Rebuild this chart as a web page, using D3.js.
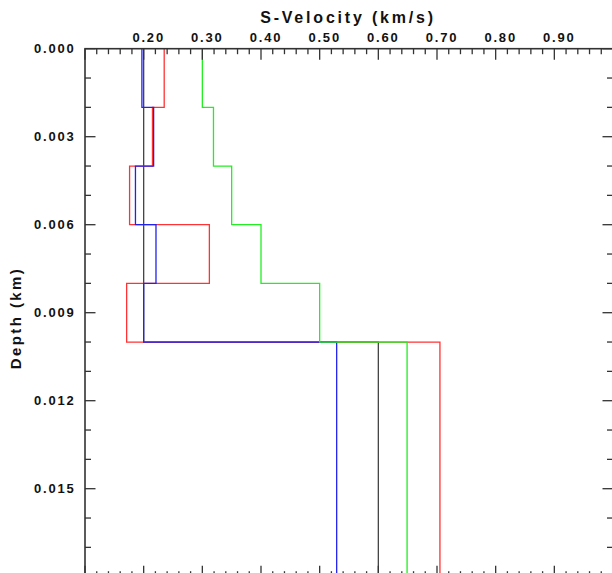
<!DOCTYPE html>
<html>
<head>
<meta charset="utf-8">
<script src="https://cdn.jsdelivr.net/npm/d3@7/dist/d3.min.js"></script>
<style>
  html, body { margin: 0; padding: 0; background: #fff; }
  svg { display: block; }
  .lbl { font-family: "Liberation Sans", Arial, sans-serif; font-weight: bold; fill: #111; }
</style>
</head>
<body>
<svg id="chart" width="612" height="573"></svg>
<script>
// Layer boundaries (km) – each model is piecewise constant, last value is the half-space
const layerTops = [0.000, 0.002, 0.004, 0.006, 0.008, 0.010];
const maxDepth = 0.018;

// S-wave velocity (km/s) of each layer for the four models
const velBlack = [0.200, 0.200, 0.200, 0.200, 0.200, 0.600];
const velRed   = [0.235, 0.215, 0.176, 0.312, 0.171, 0.705];
const velBlue  = [0.197, 0.217, 0.186, 0.221, 0.200, 0.529];
const velGreen = [0.300, 0.319, 0.350, 0.400, 0.500, 0.649];

const seriesNames  = ["black", "red", "blue", "green"];
const seriesColors = ["#444444", "#ff3333", "#2222ee", "#22ee22"];
const seriesVals   = [velBlack, velRed, velBlue, velGreen];

// Axis tick labels
const xTickVals = [0.20, 0.30, 0.40, 0.50, 0.60, 0.70, 0.80, 0.90];
const yTickVals = [0.000, 0.003, 0.006, 0.009, 0.012, 0.015];

const svg = d3.select("#chart");
const plotLeft = 85, plotTop = 48.7, plotSize = 528;

const x = d3.scaleLinear().domain([0.10, 1.00]).range([plotLeft, plotLeft + plotSize]);
const y = d3.scaleLinear().domain([0, maxDepth]).range([plotTop, plotTop + plotSize]);

const axisColor = "#333";

// minor/major ticks helpers
const xMinor = d3.range(0.10, 1.0001, 0.02);
const yMinor = d3.range(0, 0.01801, 0.001);
const isMajorX = v => Math.abs(v * 10 - Math.round(v * 10)) < 1e-6;
const isMajorY = v => Math.abs(v * 1000 / 3 - Math.round(v * 1000 / 3)) < 1e-6;

const g = svg.append("g");

// Velocity profiles drawn as step lines
const line = d3.line().x(d => x(d[0])).y(d => y(d[1]));
seriesVals.forEach((vals, i) => {
  const pts = [];
  vals.forEach((v, k) => {
    const d0 = layerTops[k];
    const d1 = k + 1 < layerTops.length ? layerTops[k + 1] : maxDepth;
    pts.push([v, d0]);
    pts.push([v, d1]);
  });
  g.append("path")
    .attr("class", "profile-" + seriesNames[i])
    .attr("d", line(pts))
    .attr("fill", "none")
    .attr("stroke", seriesColors[i])
    .attr("stroke-width", 1.3);
});

// Frame
g.append("rect")
  .attr("x", plotLeft).attr("y", plotTop)
  .attr("width", plotSize).attr("height", plotSize)
  .attr("fill", "none").attr("stroke", axisColor).attr("stroke-width", 1.6);

// Top axis ticks (pointing inward) and bottom axis ticks
const xt = g.append("g").attr("stroke", axisColor).attr("stroke-width", 1.3);
xMinor.forEach(v => {
  const len = isMajorX(v) ? 11 : 5.5;
  xt.append("line").attr("x1", x(v)).attr("x2", x(v)).attr("y1", plotTop).attr("y2", plotTop + len);
  xt.append("line").attr("x1", x(v)).attr("x2", x(v)).attr("y1", plotTop + plotSize).attr("y2", plotTop + plotSize - len);
});

// Left and right axis ticks
const yt = g.append("g").attr("stroke", axisColor).attr("stroke-width", 1.3);
yMinor.forEach(v => {
  const len = isMajorY(v) ? 10.5 : 6;
  yt.append("line").attr("x1", plotLeft).attr("x2", plotLeft + len).attr("y1", y(v)).attr("y2", y(v));
  yt.append("line").attr("x1", plotLeft + plotSize).attr("x2", plotLeft + plotSize - len).attr("y1", y(v)).attr("y2", y(v));
});

// Tick labels
g.selectAll(".xlab").data(xTickVals).enter().append("text")
  .attr("class", "lbl")
  .attr("x", d => x(d) + 5)
  .attr("y", 41.5)
  .attr("text-anchor", "middle")
  .attr("font-size", 13)
  .attr("letter-spacing", 1.8)
  .text(d => d.toFixed(2));

g.selectAll(".ylab").data(yTickVals).enter().append("text")
  .attr("class", "lbl")
  .attr("x", 75.5)
  .attr("y", d => y(d) + 4.5)
  .attr("text-anchor", "end")
  .attr("font-size", 13)
  .attr("letter-spacing", 1.8)
  .text(d => d.toFixed(3));

// Axis titles
g.append("text")
  .attr("class", "lbl")
  .attr("x", 348)
  .attr("y", 22.5)
  .attr("text-anchor", "middle")
  .attr("font-size", 16)
  .attr("letter-spacing", 2.8)
  .text("S-Velocity (km/s)");

g.append("text")
  .attr("class", "lbl")
  .attr("transform", "translate(21,318) rotate(-90)")
  .attr("text-anchor", "middle")
  .attr("font-size", 15)
  .attr("letter-spacing", 2.4)
  .text("Depth (km)");
</script>
</body>
</html>
